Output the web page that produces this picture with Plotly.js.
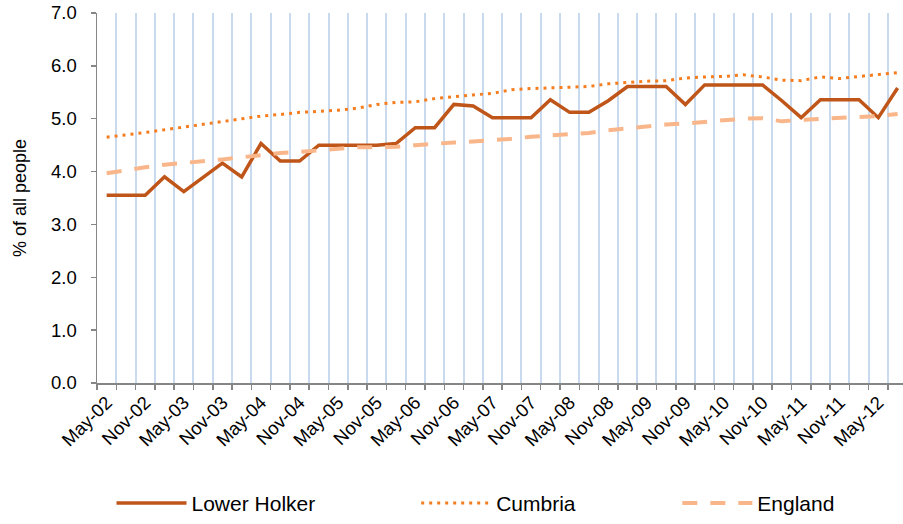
<!DOCTYPE html>
<html>
<head>
<meta charset="utf-8">
<script src="https://cdn.plot.ly/plotly-3.0.1.min.js"></script>
<style>html,body{margin:0;padding:0;background:#fff;}#chart{width:903px;height:524px;}</style>
</head>
<body>
<div id="chart"></div>
<script>
const categories = ['May-02','Aug-02','Nov-02','Feb-03','May-03','Aug-03','Nov-03','Feb-04','May-04','Aug-04','Nov-04','Feb-05','May-05','Aug-05','Nov-05','Feb-06','May-06','Aug-06','Nov-06','Feb-07','May-07','Aug-07','Nov-07','Feb-08','May-08','Aug-08','Nov-08','Feb-09','May-09','Aug-09','Nov-09','Feb-10','May-10','Aug-10','Nov-10','Feb-11','May-11','Aug-11','Nov-11','Feb-12','May-12','Aug-12'];
const tickLabels = ['May-02','','Nov-02','','May-03','','Nov-03','','May-04','','Nov-04','','May-05','','Nov-05','','May-06','','Nov-06','','May-07','','Nov-07','','May-08','','Nov-08','','May-09','','Nov-09','','May-10','','Nov-10','','May-11','','Nov-11','','May-12',''];
const lowerHolker = [3.55,3.55,3.55,3.90,3.62,3.89,4.16,3.90,4.53,4.20,4.20,4.50,4.50,4.50,4.50,4.53,4.83,4.83,5.27,5.24,5.02,5.02,5.02,5.36,5.12,5.12,5.34,5.61,5.61,5.61,5.27,5.64,5.64,5.64,5.64,5.34,5.02,5.36,5.36,5.36,5.02,5.58];
const cumbria = [4.65,4.69,4.74,4.79,4.84,4.89,4.95,5.00,5.05,5.08,5.12,5.14,5.16,5.20,5.27,5.31,5.32,5.38,5.42,5.45,5.48,5.55,5.57,5.58,5.60,5.61,5.66,5.69,5.71,5.72,5.77,5.79,5.80,5.83,5.79,5.73,5.72,5.79,5.76,5.80,5.84,5.87];
const england = [3.97,4.03,4.08,4.13,4.16,4.20,4.23,4.27,4.31,4.35,4.37,4.40,4.43,4.46,4.46,4.47,4.50,4.53,4.55,4.57,4.59,4.62,4.66,4.68,4.70,4.73,4.78,4.82,4.86,4.89,4.91,4.94,4.97,5.00,5.01,4.95,4.98,5.00,5.02,5.03,5.05,5.09];
const yTicks = [0,1,2,3,4,5,6,7];

const FONT = 'Liberation Sans, Arial, sans-serif';
const AXIS = '#868686';

const traces = [
  {x: categories, y: lowerHolker, name: 'Lower Holker', type: 'scatter', mode: 'lines',
   line: {color: '#BF5518', width: 3.5}, legend: 'legend'},
  {x: categories, y: cumbria, name: 'Cumbria', type: 'scatter', mode: 'lines',
   line: {color: '#F47D20', width: 3, dash: '3px,5px'}, legend: 'legend2'},
  {x: categories, y: england, name: 'England', type: 'scatter', mode: 'lines',
   line: {color: '#F9B68A', width: 4, dash: '15px,13px'}, legend: 'legend3'}
];

const legendBase = {orientation: 'h', yanchor: 'middle', y: -0.325, xanchor: 'left',
  itemwidth: 70,
  font: {family: FONT, size: 21, color: '#000'}, bgcolor: 'rgba(0,0,0,0)', borderwidth: 0};

const layout = {
  width: 903, height: 524,
  margin: {l: 97, r: 0, t: 12.5, b: 137.5},
  paper_bgcolor: '#fff', plot_bgcolor: '#fff',
  font: {family: FONT, size: 18, color: '#000'},
  showlegend: true,
  legend: Object.assign({}, legendBase, {x: 0.018}),
  legend2: Object.assign({}, legendBase, {x: 0.396}),
  legend3: Object.assign({}, legendBase, {x: 0.720}),
  xaxis: {
    type: 'category', categoryorder: 'array', categoryarray: categories,
    range: [-0.5, 41.28], fixedrange: true,
    tickmode: 'array', tickvals: categories, ticktext: tickLabels,
    tickson: 'boundaries', tickangle: -45,
    ticks: 'outside', ticklen: 5, tickcolor: AXIS, tickwidth: 1.5,
    showgrid: true, gridcolor: '#C9DAEE', gridwidth: 2,
    showline: true, linecolor: AXIS, linewidth: 1.5,
    zeroline: false,
    tickfont: {family: FONT, size: 18.5, color: '#000'}
  },
  yaxis: {
    range: [0, 7], fixedrange: true,
    tickmode: 'array', tickvals: yTicks, tickformat: '.1f',
    ticks: 'outside', ticklen: 5, tickcolor: AXIS, tickwidth: 1.5,
    showgrid: false, zeroline: false,
    showline: true, linecolor: AXIS, linewidth: 1.5,
    ticklabelstandoff: 10,
    tickfont: {family: FONT, size: 18.5, color: '#000'},
    title: {text: '% of all people', font: {family: FONT, size: 18, color: '#000'}, standoff: 20}
  }
};

Plotly.newPlot('chart', traces, layout, {displayModeBar: false, staticPlot: true});
</script>
</body>
</html>
